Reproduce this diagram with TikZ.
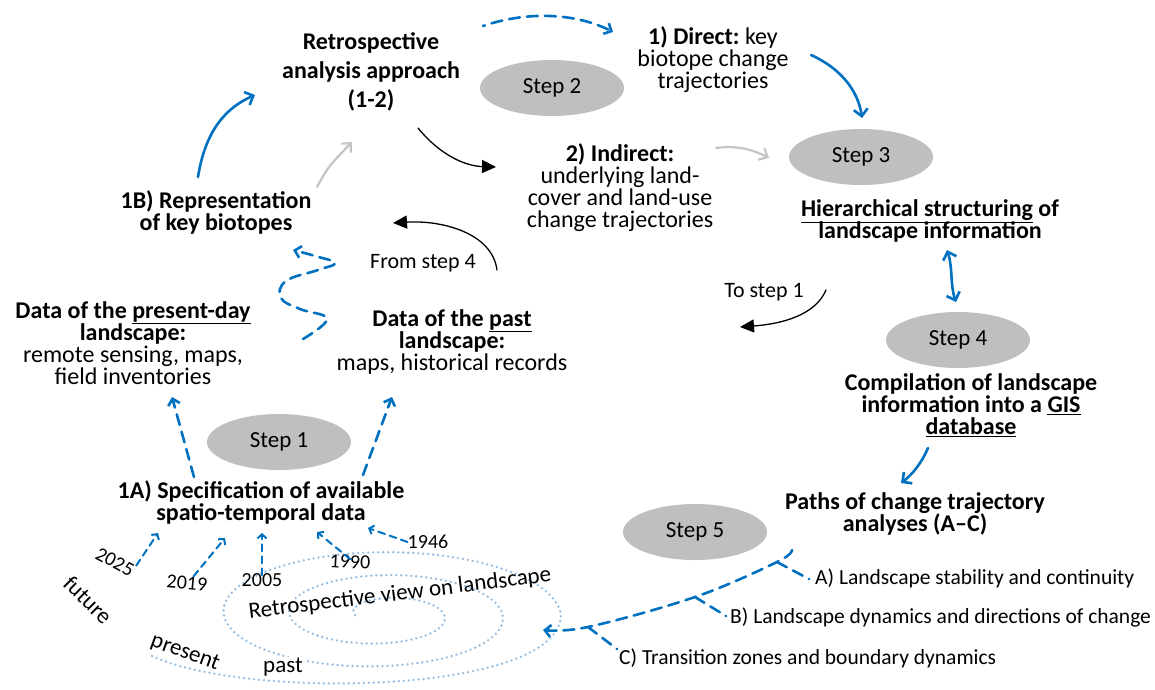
\documentclass[tikz,border=0pt]{standalone}
\usepackage{fontspec}
\setmainfont{Carlito}
\usetikzlibrary{arrows.meta,shapes.geometric}
\definecolor{pathblue}{HTML}{0070C0}
\definecolor{spiralblue}{HTML}{92BCE2}
\definecolor{stepgrey}{HTML}{BFBFBF}
\definecolor{arrowgrey}{HTML}{C4C4C4}
\newcommand\tightlines{\lineskiplimit=-30pt\relax}
\frenchspacing

\tikzset{
  stepnode/.style={ellipse, fill=stepgrey, minimum width=144pt, minimum height=56pt, inner sep=0pt, font=\fontsize{23}{27}\selectfont},
  headtxt/.style={align=center, inner sep=0pt, font=\fontsize{24}{22}\selectfont\bfseries\tightlines},
  plaintxt/.style={align=center, inner sep=0pt, font=\fontsize{24}{22}\selectfont\tightlines},
  notetxt/.style={inner sep=0pt, font=\fontsize{22}{26}\selectfont},
  pathtxt/.style={anchor=west, inner sep=0pt, font=\fontsize{21.5}{25}\selectfont},
  yeartxt/.style={inner sep=0pt, font=\fontsize{20}{24}\selectfont},
  timetxt/.style={inner sep=0pt, font=\fontsize{23}{27}\selectfont},
  bluearrow/.style={draw=pathblue, line width=2.6pt, -{Straight Barb[length=7pt,width=14pt]}},
  greyarrow/.style={draw=arrowgrey, line width=2.2pt, -{Straight Barb[length=7pt,width=13pt]}},
  blackarrow/.style={draw=black, line width=1.3pt, -{Triangle[length=14pt,width=13pt]}},
  bluedash/.style={draw=pathblue, line width=2.6pt, dash pattern=on 11pt off 7pt, -{Straight Barb[length=6pt,width=12pt]}},
  yeardash/.style={draw=pathblue, line width=2pt, dash pattern=on 7pt off 5pt, -{Straight Barb[length=4pt,width=9pt]}},
  branchdash/.style={draw=pathblue, line width=2.6pt, dash pattern=on 11pt off 7pt},
  spiraldots/.style={draw=spiralblue, line width=2.6pt, dash pattern=on 0pt off 5pt, line cap=round}
}

\begin{document}
\begin{tikzpicture}[x=1pt, y=-1pt, line cap=round]
  \useasboundingbox (0,0) rectangle (1155,689);

  \draw[spiraldots] plot[domain=180:1080, samples=260]
    ({385-0.01*(\x-180)+(30+0.1722*(\x-180))*cos(\x)}, {615+0.37*(30+0.1722*(\x-180))*sin(\x)})
    .. controls (560,695) and (240,700) .. (150,655);

  \node[stepnode] (step1) at (279,442) {Step 1};
  \node[stepnode] (step2) at (552,88) {Step 2};
  \node[stepnode] (step3) at (861,157) {Step 3};
  \node[stepnode] (step4) at (958,340) {Step 4};
  \node[stepnode] (step5) at (695,532) {Step 5};

  \node[headtxt, font=\fontsize{24}{29}\selectfont\bfseries] (retro) at (371,72) {Retrospective\\analysis approach\\(1-2)};
  \node[plaintxt] (direct) at (713,60) {\textbf{1) Direct:} key\\biotope change\\trajectories};
  \node[plaintxt] (indirect) at (620,188) {\textbf{2) Indirect:}\\underlying land-\\cover and land-use\\change trajectories};
  \node[headtxt] (hier) at (930,221) {\underline{Hierarchical structuring} of\\landscape information};
  \node[headtxt] (comp) at (971,405) {Compilation of landscape\\information into a \underline{GIS}\\\underline{database}};
  \node[headtxt] (paths) at (915,514) {Paths of change trajectory\\analyses (A--C)};
  \node[headtxt] (rep) at (216,212) {1B) Representation\\of key biotopes};
  \node[plaintxt] (datanow) at (133,343) {\textbf{Data of the \underline{present-day}}\\\textbf{landscape:}\\remote sensing, maps,\\field inventories};
  \node[plaintxt] (datapast) at (452,342) {\textbf{Data of the \underline{past}}\\\textbf{landscape:}\\maps, historical records};
  \node[headtxt] (spec) at (261,502) {1A) Specification of available\\spatio-temporal data};
  \node[notetxt] (from4) at (423,263) {From step 4};
  \node[notetxt] (to1) at (764,292) {To step 1};
  \node[pathtxt] (pa) at (815,578) {A) Landscape stability and continuity};
  \node[pathtxt] (pb) at (730,617) {B) Landscape dynamics and directions of change};
  \node[pathtxt] (pc) at (619,658) {C) Transition zones and boundary dynamics};

  \node[yeartxt, rotate=-28] (y2025) at (115,562) {2025};
  \node[yeartxt, rotate=-5] (y2019) at (187,583) {2019};
  \node[yeartxt] (y2005) at (262,580) {2005};
  \node[yeartxt, rotate=-3] (y1990) at (350,562) {1990};
  \node[yeartxt] (y1946) at (428,542) {1946};
  \node[timetxt, rotate=-45] (future) at (88,600) {future};
  \node[timetxt, rotate=-20] (nowlbl) at (185,653) {present};
  \node[timetxt, fill=white, inner sep=1pt] (pastlbl) at (283,667) {past};
  \node[timetxt, rotate=7] (view) at (400,594) {Retrospective view on landscape};

  \coordinate (rep-up) at (198,177);   \coordinate (retro-in) at (255,95);
  \coordinate (rep-grey) at (317,187); \coordinate (retro-grey) at (352,142);
  \coordinate (retro-out) at (418,128); \coordinate (indir-in) at (496,167);
  \coordinate (retro-dash) at (483,26); \coordinate (direct-in) at (613,32);
  \coordinate (direct-out) at (811,55); \coordinate (step3-in) at (862,118);
  \coordinate (indir-out) at (716,148); \coordinate (step3-grey) at (769,158);
  \coordinate (hier-end) at (947,250); \coordinate (step4-end) at (956,302);
  \coordinate (to1-a) at (826,290); \coordinate (to1-b) at (740,327);
  \coordinate (from4-a) at (497,270); \coordinate (from4-b) at (393,223);
  \coordinate (comp-out) at (928,448); \coordinate (paths-in) at (901,483);
  \coordinate (spec-l) at (194,477); \coordinate (now-in) at (172,397);
  \coordinate (spec-r) at (363,475); \coordinate (past-in) at (392,397);

  \draw[bluearrow] (rep-up) .. controls (205,132) and (225,108) .. (retro-in);
  \draw[greyarrow] (rep-grey) .. controls (328,167) .. (retro-grey);
  \draw[blackarrow] (retro-out) .. controls (440,155) and (465,166) .. (indir-in);
  \draw[bluedash, dash phase=9pt] (retro-dash) .. controls (530,10) and (578,14) .. (direct-in);
  \draw[bluearrow] (direct-out) .. controls (840,68) and (858,90) .. (step3-in);
  \draw[greyarrow] (indir-out) .. controls (737,145) and (754,150) .. (step3-grey);
  \draw[bluearrow, {Straight Barb[length=7pt,width=14pt]}-{Straight Barb[length=7pt,width=14pt]}] (hier-end) .. controls (953,268) and (950,285) .. (step4-end);
  \draw[blackarrow] (to1-a) .. controls (815,316) and (780,324) .. (to1-b);
  \draw[blackarrow] (from4-a) .. controls (492,232) and (440,220) .. (from4-b);
  \draw[bluearrow] (comp-out) .. controls (922,462) and (913,474) .. (paths-in);
  \draw[bluedash] (spec-l) -- (now-in);
  \draw[bluedash] (spec-r) -- (past-in);

  \draw[bluedash] plot[smooth, tension=0.7] coordinates {(303,339) (327,319) (300,309) (281,298) (286,281) (318,270) (335,263) (315,256) (293,250)};

  \draw[yeardash] (y2025.north east) -- (158,533);
  \draw[yeardash] ([xshift=6pt]y2019.north) -- (225,538);
  \draw[yeardash] ([yshift=-2pt]y2005.north) -- (262,533);
  \draw[yeardash] ([yshift=-4pt]y1990.north) -- (317,532);
  \draw[yeardash] (y1946.west) -- (368,528);

  \coordinate (tree-top) at (792,550); \coordinate (ja) at (777,562);
  \coordinate (jb) at (695,597); \coordinate (jc) at (588,627);
  \coordinate (tree-tip) at (543,630);
  \draw[bluedash] plot[smooth, tension=0.6] coordinates {(tree-top) (ja) (jb) (jc) (tree-tip)};
  \draw[branchdash] (ja) -- ([xshift=-6pt,yshift=-1pt]pa.west);
  \draw[branchdash] (jb) -- ([xshift=-4pt,yshift=1pt]pb.west);
  \draw[branchdash] (jc) -- ([xshift=-2pt,yshift=9pt]pc.west);
\end{tikzpicture}
\end{document}
